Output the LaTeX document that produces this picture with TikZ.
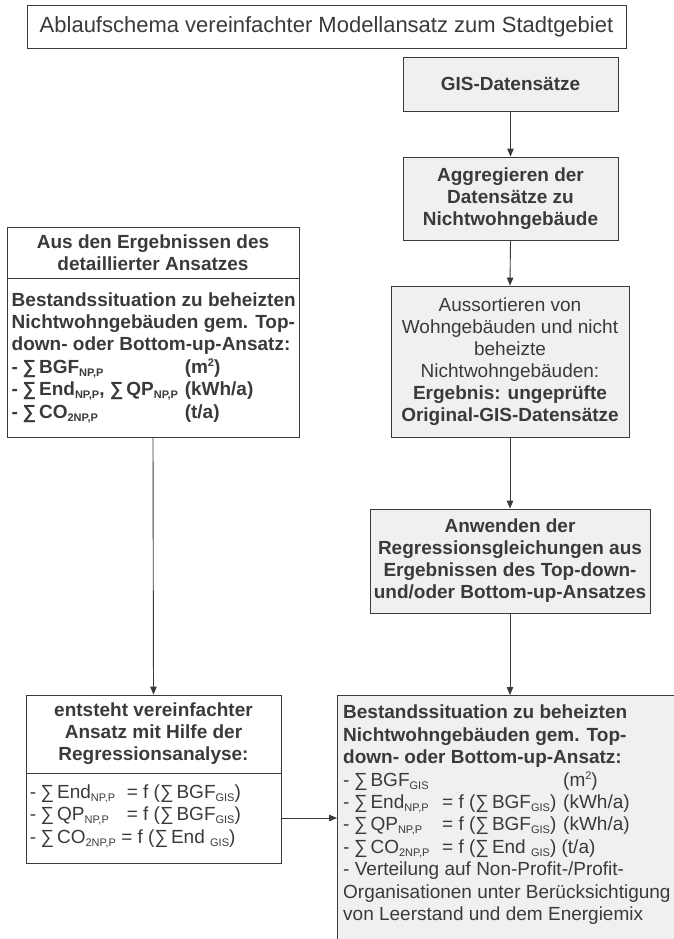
\documentclass[tikz,border=0pt]{standalone}
\usepackage{fontspec}
\setmainfont{Liberation Sans}
\usetikzlibrary{arrows.meta}

\definecolor{ink}{HTML}{3A3A3A}
\definecolor{panel}{HTML}{F0F0F0}

% small lowered / raised indices
\newcommand\idx[1]{\raisebox{-3pt}{\fontsize{11}{11}\selectfont #1}}
\newcommand\pow[1]{\raisebox{7pt}{\fontsize{11}{11}\selectfont #1}}
\newcommand\sumsign{-\hspace{4.5pt}∑\hspace{3pt}}
\newcommand\sumin{∑\hspace{3pt}}

\tikzset{
  box/.style={draw=ink, line width=0.9pt, inner sep=0pt, align=center,
    text=ink, font=\fontsize{19}{22}\selectfont},
  boldbox/.style={box, font=\fontsize{19}{22}\selectfont\bfseries},
  graybox/.style={box, fill=panel},
  boldgray/.style={boldbox, fill=panel},
  label/.style={inner sep=0pt, align=left, text=ink, font=\fontsize{19}{22.4}\selectfont},
  flow/.style={draw=ink, line width=0.9pt, -{Triangle[length=8pt,width=6.5pt]}},
}

\begin{document}
\begin{tikzpicture}[x=1pt, y=-1pt]
\useasboundingbox (0,0) rectangle (674,939);

% title
\node[box, minimum width=599pt, minimum height=43pt,
      font=\fontsize{22}{26}\selectfont] (title) at (326.5,26.5)
  {Ablaufschema vereinfachter Modellansatz zum Stadtgebiet};

% right-hand chain
\node[boldgray, minimum width=215pt, minimum height=54pt] (gis) at (510.5,84)
  {GIS-Datensätze};
\node[boldgray, minimum width=215pt, minimum height=83pt] (agg) at (510.5,198.5)
  {Aggregieren der\\Datensätze zu\\Nichtwohngebäude};
\node[graybox, minimum width=238pt, minimum height=151pt] (sort) at (510,361.5)
  {Aussortieren von\\Wohngebäuden und nicht\\beheizte\\Nichtwohngebäuden:\\
   \textbf{Ergebnis: ungeprüfte}\\\textbf{Original-GIS-Datensätze}};
\node[boldgray, minimum width=280pt, minimum height=104pt] (apply) at (510,561)
  {Anwenden der\\Regressionsgleichungen aus\\Ergebnissen des Top-down-\\und/oder Bottom-up-Ansatzes};

% result box (runs past the lower edge)
\node[graybox, anchor=north west, minimum width=345pt, minimum height=265pt] (final) at (337,695) {};
\node[label, anchor=north west] (finaltext) at ([xshift=6pt,yshift=-10pt]final.north west)
  {\textbf{Bestandssituation zu beheizten}\\
   \textbf{Nichtwohngebäuden gem. Top-}\\
   \textbf{down- oder Bottom-up-Ansatz:}\\
   \makebox[220pt][l]{\sumsign BGF\idx{GIS}}(m\pow{2})\\
   \makebox[99pt][l]{\sumsign End\idx{NP,P}}\makebox[121pt][l]{= f (\sumin BGF\idx{GIS})}(kWh/a)\\
   \makebox[99pt][l]{\sumsign QP\idx{NP,P}}\makebox[121pt][l]{= f (\sumin BGF\idx{GIS})}(kWh/a)\\
   \makebox[99pt][l]{\sumsign CO\idx{2NP,P}}= f (\sumin End \idx{GIS}) (t/a)\\
   - Verteilung auf Non-Profit-/Profit-\\
   Organisationen unter Berücksichtigung\\
   von Leerstand und dem Energiemix};

% left column, upper box
\node[boldbox, minimum width=292pt, minimum height=51pt] (lhead) at (153,252.5)
  {Aus den Ergebnissen des\\detaillierter Ansatzes};
\node[box, minimum width=292pt, minimum height=159pt] (lbody) at (153,357.5) {};
\node[label, anchor=west, font=\fontsize{19}{22.4}\selectfont\bfseries] (lbodytext) at ([xshift=5pt]lbody.west)
  {Bestandssituation zu beheizten\\
   Nichtwohngebäuden gem. Top-\\
   down- oder Bottom-up-Ansatz:\\
   \makebox[173pt][l]{\sumsign BGF\idx{NP,P}}(m\pow{2})\\
   \makebox[173pt][l]{\sumsign End\idx{NP,P}, \sumin QP\idx{NP,P}}(kWh/a)\\
   \makebox[173pt][l]{\sumsign CO\idx{2NP,P}}(t/a)};

% left column, lower box
\node[boldbox, minimum width=255pt, minimum height=78pt] (bhead) at (153.5,734)
  {entsteht vereinfachter\\Ansatz mit Hilfe der\\Regressionsanalyse:};
\node[box, minimum width=255pt, minimum height=90pt] (bbody) at (153.5,818) {};
\node[label, anchor=west] (bbodytext) at ([xshift=4pt,yshift=2pt]bbody.west)
  {\makebox[97pt][l]{\sumsign End\idx{NP,P}}= f (\sumin BGF\idx{GIS})\\
   \makebox[97pt][l]{\sumsign QP\idx{NP,P}}= f (\sumin BGF\idx{GIS})\\
   \sumsign CO\idx{2NP,P} = f (\sumin End \idx{GIS})};

% connectors
\draw[flow] (gis.south) -- (agg.north);
\draw[flow] (agg.south) -- (sort.north);
\draw[flow] (sort.south) -- (apply.north);
\draw[flow] (apply.south) -- (apply.south |- final.north);
\draw[flow] (lbody.south) -- (bhead.north);
\draw[flow] (bbody.east) -- (bbody.east -| final.west);
\end{tikzpicture}
\end{document}
